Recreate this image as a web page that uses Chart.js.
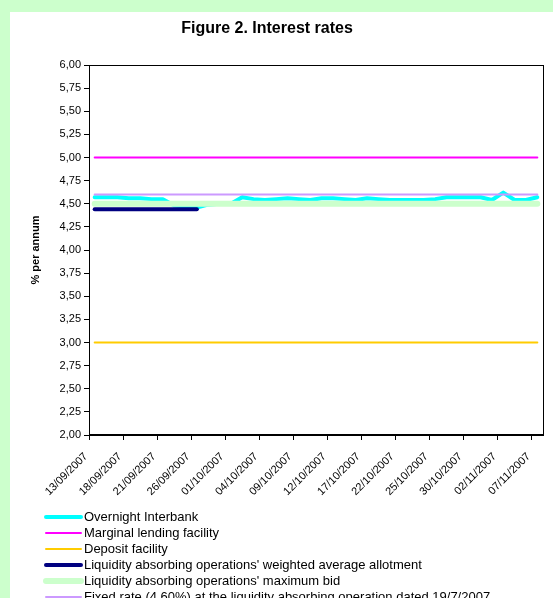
<!DOCTYPE html>
<html>
<head>
<meta charset="utf-8">
<title>Figure 2. Interest rates</title>
<script src="https://cdn.jsdelivr.net/npm/chart.js@4.4.0/dist/chart.umd.min.js"></script>
<style>
  html, body { margin: 0; padding: 0; background: #CCFFCC; }
  canvas { display: block; }
</style>
</head>
<body>
<canvas id="rates" width="553" height="598"></canvas>
<script>
// Business days shown on the category axis
const dates = [
  '13/09/2007','14/09/2007','17/09/2007','18/09/2007','19/09/2007','20/09/2007','21/09/2007',
  '24/09/2007','25/09/2007','26/09/2007','27/09/2007','28/09/2007',
  '01/10/2007','02/10/2007','03/10/2007','04/10/2007','05/10/2007','08/10/2007','09/10/2007',
  '10/10/2007','11/10/2007','12/10/2007','15/10/2007','16/10/2007','17/10/2007','18/10/2007',
  '19/10/2007','22/10/2007','23/10/2007','24/10/2007','25/10/2007','26/10/2007','29/10/2007',
  '30/10/2007','31/10/2007','01/11/2007','02/11/2007','05/11/2007','06/11/2007','07/11/2007'
];

// Rates, % per annum
const overnightInterbank = [
  4.57, 4.57, 4.57, 4.56, 4.56, 4.55, 4.55, 4.48, 4.47, 4.46,
  4.49, 4.50, 4.50, 4.57, 4.55, 4.54, 4.55, 4.56, 4.55, 4.54,
  4.56, 4.56, 4.55, 4.54, 4.56, 4.55, 4.54, 4.54, 4.54, 4.54,
  4.55, 4.57, 4.57, 4.57, 4.57, 4.54, 4.62, 4.54, 4.54, 4.57
];
const marginalLending = [
  5.00, 5.00, 5.00, 5.00, 5.00, 5.00, 5.00, 5.00, 5.00, 5.00,
  5.00, 5.00, 5.00, 5.00, 5.00, 5.00, 5.00, 5.00, 5.00, 5.00,
  5.00, 5.00, 5.00, 5.00, 5.00, 5.00, 5.00, 5.00, 5.00, 5.00,
  5.00, 5.00, 5.00, 5.00, 5.00, 5.00, 5.00, 5.00, 5.00, 5.00
];
const depositFacility = [
  3.00, 3.00, 3.00, 3.00, 3.00, 3.00, 3.00, 3.00, 3.00, 3.00,
  3.00, 3.00, 3.00, 3.00, 3.00, 3.00, 3.00, 3.00, 3.00, 3.00,
  3.00, 3.00, 3.00, 3.00, 3.00, 3.00, 3.00, 3.00, 3.00, 3.00,
  3.00, 3.00, 3.00, 3.00, 3.00, 3.00, 3.00, 3.00, 3.00, 3.00
];
const weightedAllotment = [
  4.44, 4.44, 4.44, 4.44, 4.44, 4.44, 4.44, 4.44, 4.44, 4.44
];
const maximumBid = [
  4.50, 4.50, 4.50, 4.50, 4.50, 4.50, 4.50, 4.50, 4.50, 4.50,
  4.50, 4.50, 4.50, 4.50, 4.50, 4.50, 4.50, 4.50, 4.50, 4.50,
  4.50, 4.50, 4.50, 4.50, 4.50, 4.50, 4.50, 4.50, 4.50, 4.50,
  4.50, 4.50, 4.50, 4.50, 4.50, 4.50, 4.50, 4.50, 4.50, 4.50
];
const fixedRate = [
  4.60, 4.60, 4.60, 4.60, 4.60, 4.60, 4.60, 4.60, 4.60, 4.60,
  4.60, 4.60, 4.60, 4.60, 4.60, 4.60, 4.60, 4.60, 4.60, 4.60,
  4.60, 4.60, 4.60, 4.60, 4.60, 4.60, 4.60, 4.60, 4.60, 4.60,
  4.60, 4.60, 4.60, 4.60, 4.60, 4.60, 4.60, 4.60, 4.60, 4.60
];

const seriesNames = [
  'Overnight Interbank',
  'Marginal lending facility',
  'Deposit facility',
  "Liquidity absorbing operations' weighted average allotment",
  "Liquidity absorbing operations' maximum bid",
  'Fixed rate (4.60%) at the liquidity absorbing operation dated 19/7/2007'
];

const chartTitle = 'Figure 2. Interest rates';
const yAxisTitle = '% per annum';
const labelEvery = 3;

const FONT = '"Liberation Sans", Arial, Helvetica, sans-serif';

// Points sit at category centres (index i); ticks fall on category boundaries
const toPoints = values => values.map((v, i) => ({ x: i, y: v }));
const boundaryTicks = dates
  .map((d, i) => i)
  .filter(i => i % labelEvery === 0)
  .map(i => ({ value: i - 0.5 }));

const lineStyle = (label, values, color, width, order) => ({
  label,
  data: toPoints(values),
  borderColor: color,
  backgroundColor: color,
  borderWidth: width,
  pointRadius: 0,
  pointHoverRadius: 0,
  tension: 0,
  fill: false,
  borderCapStyle: 'round',
  borderJoinStyle: 'round',
  order
});

// Page background, panel, plot frame, title and the stacked legend
const decorations = {
  id: 'decorations',
  beforeDraw(chart) {
    const { ctx, width, height } = chart;
    ctx.save();
    ctx.fillStyle = '#CCFFCC';
    ctx.fillRect(0, 0, width, height);
    ctx.fillStyle = '#FFFFFF';
    ctx.fillRect(10, 12, width - 10, height - 12);
    ctx.restore();
  },
  afterDraw(chart) {
    const { ctx, chartArea: a } = chart;
    ctx.save();
    ctx.strokeStyle = '#000000';
    ctx.lineWidth = 1;
    ctx.strokeRect(Math.round(a.left) + 0.5, Math.round(a.top) + 0.5,
                   Math.round(a.right - a.left), Math.round(a.bottom - a.top) - 1);

    ctx.fillStyle = '#000000';
    ctx.font = 'bold 16px ' + FONT;
    ctx.textAlign = 'center';
    ctx.textBaseline = 'middle';
    ctx.fillText(chartTitle, 267, 29);

    ctx.font = '13px ' + FONT;
    ctx.textAlign = 'left';
    chart.data.datasets.forEach((ds, i) => {
      const y = 517 + i * 16;
      ctx.beginPath();
      ctx.strokeStyle = ds.borderColor;
      ctx.lineWidth = ds.borderWidth;
      ctx.lineCap = 'round';
      ctx.moveTo(46, y);
      ctx.lineTo(81, y);
      ctx.stroke();
      ctx.fillStyle = '#000000';
      ctx.fillText(ds.label, 84, y);
    });
    ctx.restore();
  }
};

new Chart(document.getElementById('rates'), {
  type: 'line',
  data: {
    datasets: [
      lineStyle(seriesNames[0], overnightInterbank, '#00FFFF', 4, 6),
      lineStyle(seriesNames[1], marginalLending, '#FF00FF', 2, 5),
      lineStyle(seriesNames[2], depositFacility, '#FFCC00', 2, 4),
      lineStyle(seriesNames[3], weightedAllotment, '#000080', 4, 3),
      lineStyle(seriesNames[4], maximumBid, '#CCFFCC', 6, 2),
      lineStyle(seriesNames[5], fixedRate, '#CC99FF', 2, 1)
    ]
  },
  plugins: [decorations],
  options: {
    responsive: false,
    animation: false,
    devicePixelRatio: 1,
    layout: { padding: { top: 65, right: 10, bottom: 0, left: 29 } },
    plugins: {
      legend: { display: false },
      title: { display: false },
      tooltip: { enabled: false }
    },
    scales: {
      x: {
        type: 'linear',
        min: -0.5,
        max: dates.length - 0.5,
        afterBuildTicks: scale => { scale.ticks = boundaryTicks.map(t => ({ ...t })); },
        afterFit: scale => { scale.height = 163; },
        grid: { drawOnChartArea: false, drawTicks: true, tickLength: 5, tickColor: '#000000' },
        border: { display: true, color: '#000000', width: 1 },
        ticks: {
          autoSkip: false,
          minRotation: 45,
          maxRotation: 45,
          padding: 10,
          labelOffset: -3,
          color: '#000000',
          font: { family: FONT, size: 11 },
          callback: value => dates[Math.round(value + 0.5)]
        }
      },
      y: {
        min: 2,
        max: 6,
        afterFit: scale => { scale.width = 60; },
        grid: { drawOnChartArea: false, drawTicks: true, tickLength: 5, tickColor: '#000000' },
        border: { display: true, color: '#000000', width: 1 },
        ticks: {
          stepSize: 0.25,
          padding: 3,
          color: '#000000',
          font: { family: FONT, size: 11 },
          callback: value => value.toFixed(2).replace('.', ',')
        },
        title: {
          display: true,
          text: yAxisTitle,
          color: '#000000',
          padding: { top: 0, bottom: 0 },
          font: { family: FONT, size: 11, weight: 'bold' }
        }
      }
    }
  }
});
</script>
</body>
</html>
